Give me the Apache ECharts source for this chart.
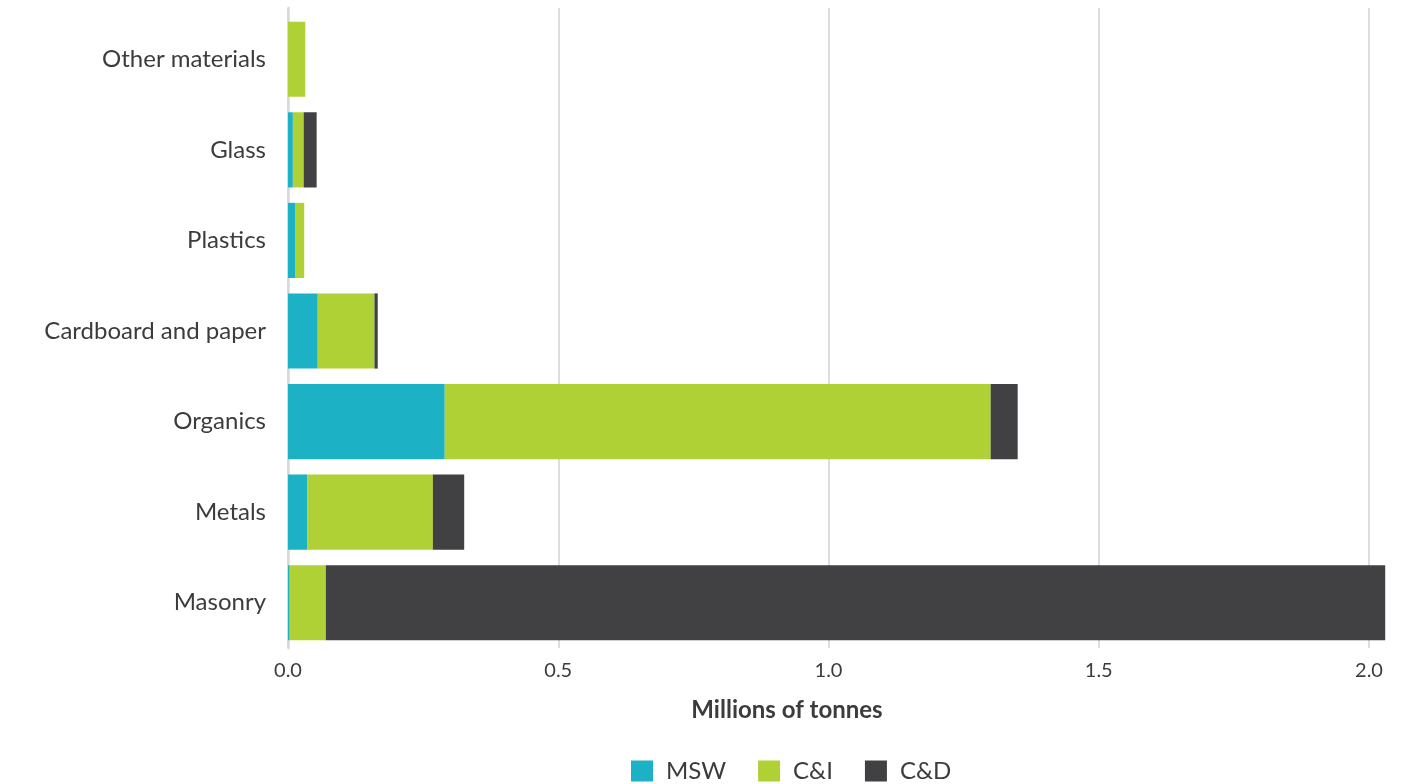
<!DOCTYPE html>
<html>
<head>
<meta charset="utf-8">
<script src="https://cdn.jsdelivr.net/npm/echarts@6/dist/echarts.min.js"></script>
<style>
html,body{margin:0;padding:0;background:#fff;}
#chart{width:1414px;height:784px;}
</style>
</head>
<body>
<div id="chart"></div>
<script>
// Data (bottom to top)
const categories = ['Masonry', 'Metals', 'Organics', 'Cardboard and paper', 'Plastics', 'Glass', 'Other materials'];
const msw = [0.003, 0.036, 0.290, 0.055, 0.014, 0.009, 0];
const ci  = [0.067, 0.232, 1.010, 0.105, 0.016, 0.020, 0.032];
const cd  = [1.960, 0.058, 0.050, 0.006, 0, 0.024, 0];
const xTicks = [0, 0.5, 1.0, 1.5, 2.0];
const axisTitle = 'Millions of tonnes';
const seriesNames = ['MSW', 'C&I', 'C&D'];

const FONT = 'Lato, "Noto Sans", sans-serif';
const TEXT = '#3c3c3c';
const colors = ['#1cb1c4', '#afd136', '#414143'];

const chart = echarts.init(document.getElementById('chart'), null, {renderer: 'canvas'});

const xBase = {
  type: 'value', min: xTicks[0], max: xTicks[xTicks.length - 1], interval: xTicks[1] - xTicks[0]
};

const option = {
  backgroundColor: '#ffffff',
  animation: false,
  color: colors,
  grid: [
    {left: 288, right: 45, top: 8, bottom: 136, containLabel: false},
    {left: 288, right: 45, top: 14, bottom: 136, containLabel: false}
  ],
  xAxis: [
    Object.assign({}, xBase, {
      gridIndex: 0,
      axisLine: {show: false}, axisTick: {show: false}, axisLabel: {show: false},
      splitLine: {show: true, lineStyle: {color: '#d2d2d2', width: 1.5}}
    }),
    Object.assign({}, xBase, {
      gridIndex: 1,
      axisLine: {show: false}, axisTick: {show: false},
      splitLine: {show: false},
      axisLabel: {
        show: true, margin: 13, color: TEXT, fontFamily: FONT, fontSize: 20,
        formatter: v => v.toFixed(1)
      }
    })
  ],
  yAxis: [
    {
      type: 'category', gridIndex: 0, data: categories,
      axisLine: {show: true, lineStyle: {color: '#d8d8d8', width: 2.5}},
      axisTick: {show: false}, axisLabel: {show: false}, splitLine: {show: false}
    },
    {
      type: 'category', gridIndex: 1, data: categories,
      axisLine: {show: false}, axisTick: {show: false},
      axisLabel: {show: true, margin: 22, color: TEXT, fontFamily: FONT, fontSize: 24}
    }
  ],
  legend: {
    data: seriesNames,
    left: 631, top: 759, padding: 0,
    itemWidth: 22, itemHeight: 21, itemGap: 32,
    icon: 'rect',
    textStyle: {color: TEXT, fontFamily: FONT, fontSize: 24, padding: [0, 0, 0, 8]}
  },
  graphic: [{
    type: 'text', x: 787, y: 710,
    style: {text: axisTitle, textAlign: 'center', textVerticalAlign: 'middle',
      fill: TEXT, font: 'bold 24px ' + FONT}
  }],
  series: [
    {name: seriesNames[0], type: 'bar', stack: 'total', xAxisIndex: 1, yAxisIndex: 1, data: msw,
     barCategoryGap: '17%', clip: false, itemStyle: {color: colors[0]}},
    {name: seriesNames[1], type: 'bar', stack: 'total', xAxisIndex: 1, yAxisIndex: 1, data: ci,
     barCategoryGap: '17%', clip: false, itemStyle: {color: colors[1]}},
    {name: seriesNames[2], type: 'bar', stack: 'total', xAxisIndex: 1, yAxisIndex: 1, data: cd,
     barCategoryGap: '17%', clip: false, itemStyle: {color: colors[2]}}
  ]
};
chart.setOption(option);
</script>
</body>
</html>
